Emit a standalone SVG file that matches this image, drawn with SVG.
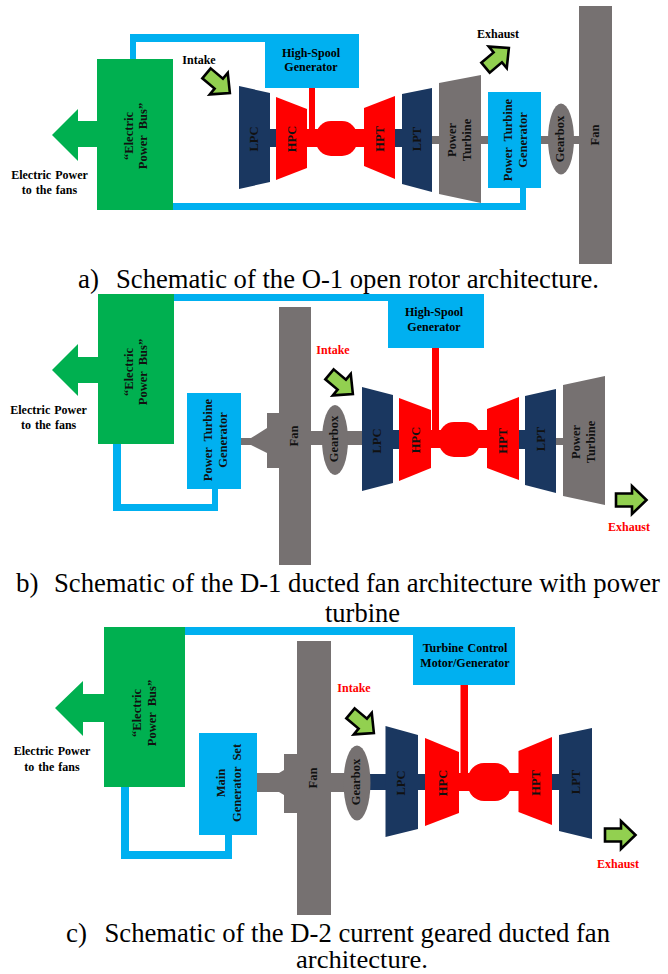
<svg xmlns="http://www.w3.org/2000/svg" xmlns:xlink="http://www.w3.org/1999/xlink" width="668" height="974" viewBox="0 0 668 974">
<style>
.g{fill:#00b050}.b{fill:#00b0f0}.y{fill:#767171}.n{fill:#1a3760}.r{fill:#ff0000}
text{font-family:"Liberation Serif","Times New Roman",serif}
.l{font-size:12px;font-weight:bold;fill:#000;text-anchor:middle;word-spacing:1px}
.e{font-size:12px;font-weight:bold;fill:#ff0000;text-anchor:middle}
.s{font-size:12.5px;font-weight:bold;fill:#111;text-anchor:middle;word-spacing:3px}
.c{font-size:27px;fill:#000}
.ar{fill:#92d050;stroke:#000;stroke-width:2.6;stroke-linejoin:miter}
</style>
<defs>
<polygon id="flow" class="ar" points="-15,-6.500 1,-6.500 1,-14 15.500,0 1,14 1,6.500 -15,6.500"/>
</defs>
<rect width="668" height="974" fill="#fff"/>

<g id="connectors">
<path class="b" d="M130 59V34H268V42H136V59Z"/>
<path class="b" d="M173 203H520V186H526V210H173Z"/>
<path class="r" d="M309 88H315V131H309Z"/>
<path class="b" d="M173 294H392V301H173Z"/>
<path class="b" d="M113 442H121V504H212V487H218V511H113Z"/>
<path class="r" d="M432 346H439V432H432Z"/>
<path class="b" d="M185 627H416V635H185Z"/>
<path class="b" d="M121 785H129V851H225V833H232V859H121Z"/>
<path class="r" d="M460.500 683H468V775H460.500Z"/>
</g>

<g id="a-shafts">
<rect class="y" x="432" y="136" width="147" height="8"/>
<rect class="n" x="268" y="129" width="10" height="18"/>
<rect class="n" x="393" y="129" width="11" height="18"/>
</g>
<g id="a-core"><rect class="r" x="305" y="129" width="61" height="18"/><rect class="r" x="316" y="121" width="41" height="35" rx="15"/></g>
<g id="a-bus"><rect class="g" x="97" y="59" width="76" height="151"/><polygon class="g" points="52,135 78,109 78,121 98,121 98,147 78,147 78,161"/>
<text class="s" transform="translate(133,136) rotate(-90)">“Electric</text><text class="s" transform="translate(147,136) rotate(-90)">Power Bus”</text></g>
<text class="l" x="49.500" y="179" word-spacing="2">Electric Power</text>
<text class="l" x="49.500" y="194">to the fans</text>
<g id="a-hsg"><rect class="b" x="265" y="34" width="94" height="54"/><text class="l" x="311" y="57">High-Spool</text><text class="l" x="311" y="71">Generator</text></g>
<g id="a-lpc"><polygon class="n" points="239,86 270,93 270,182 239,189"/><text class="s" transform="translate(258,139) rotate(-90)">LPC</text></g>
<g id="a-hpc"><polygon class="r" points="276,97 307,109 307,168 276,180"/><text class="s" transform="translate(296,139) rotate(-90)">HPC</text></g>
<g id="a-hpt"><polygon class="r" points="364,108 395,96 395,179 364,166"/><text class="s" transform="translate(384,139) rotate(-90)">HPT</text></g>
<g id="a-lpt"><polygon class="n" points="402,94 432,88 432,192 402,184"/><text class="s" transform="translate(421,139) rotate(-90)">LPT</text></g>
<g id="a-pt"><polygon class="y" points="439,83 481,75 481,203 439,194"/><text class="s" transform="translate(456,140) rotate(-90)">Power</text><text class="s" transform="translate(471,140) rotate(-90)">Turbine</text></g>
<g id="a-ptg"><rect class="b" x="488" y="92" width="53" height="96"/><text class="s" transform="translate(512,140) rotate(-90)">Power Turbine</text><text class="s" transform="translate(527,140) rotate(-90)">Generator</text></g>
<g id="a-gearbox"><ellipse class="y" cx="561" cy="139" rx="13" ry="35.500"/><text class="s" transform="translate(564,139) rotate(-90)">Gearbox</text></g>
<g id="a-fan"><rect class="y" x="579" y="6" width="33" height="258"/><text class="s" transform="translate(599,135) rotate(-90)">Fan</text></g>
<g id="a-intake"><use xlink:href="#flow" href="#flow" transform="translate(218,83) rotate(40)"/><text class="l" x="199" y="64">Intake</text></g>
<g id="a-exhaust"><use xlink:href="#flow" href="#flow" transform="translate(497,58) rotate(-40)"/><text class="l" x="498" y="38">Exhaust</text></g>
<text class="c" x="78" y="288">a)</text>
<text class="c" x="116" y="288" textLength="483" lengthAdjust="spacingAndGlyphs">Schematic of the O-1 open rotor architecture.</text>

<g id="b-shafts">
<polygon class="y" points="241,438 251,438 267,428 267,453 251,445 241,445"/>
<rect class="y" x="311" y="431" width="52" height="14"/>
<rect class="n" x="390" y="430" width="12" height="19"/>
<rect class="n" x="516" y="430" width="12" height="19"/>
<rect class="y" x="556" y="438" width="8" height="7"/>
</g>
<g id="b-core"><rect class="r" x="429" y="430" width="61" height="18"/><rect class="r" x="439" y="422" width="41" height="35" rx="15"/></g>
<g id="b-bus"><rect class="g" x="98" y="294" width="76" height="150"/><polygon class="g" points="52,370 78,344 78,357 98,357 98,383 78,383 78,396"/>
<text class="s" transform="translate(133,372) rotate(-90)">“Electric</text><text class="s" transform="translate(147,372) rotate(-90)">Power Bus”</text></g>
<text class="l" x="48.600" y="414" word-spacing="2">Electric Power</text>
<text class="l" x="48.600" y="429">to the fans</text>
<g id="b-hsg"><rect class="b" x="388" y="294" width="96" height="54"/><text class="l" x="434" y="316">High-Spool</text><text class="l" x="434" y="331">Generator</text></g>
<g id="b-ptg"><rect class="b" x="187" y="393" width="54" height="96"/><text class="s" transform="translate(212,440) rotate(-90)">Power Turbine</text><text class="s" transform="translate(226.500,440) rotate(-90)">Generator</text></g>
<g id="b-fan"><rect class="y" x="279" y="307" width="32" height="258"/><rect class="y" x="267" y="413" width="12" height="55"/><text class="s" transform="translate(298,436) rotate(-90)">Fan</text></g>
<g id="b-gearbox"><ellipse class="y" cx="335" cy="440" rx="13" ry="35"/><text class="s" transform="translate(338,439) rotate(-90)">Gearbox</text></g>
<g id="b-lpc"><polygon class="n" points="362,387 393,395 393,483 362,491"/><text class="s" transform="translate(381,441) rotate(-90)">LPC</text></g>
<g id="b-hpc"><polygon class="r" points="399,398 431,410 431,468 399,481"/><text class="s" transform="translate(420,440) rotate(-90)">HPC</text></g>
<g id="b-hpt"><polygon class="r" points="487,409 519,397 519,480 487,468"/><text class="s" transform="translate(507,441) rotate(-90)">HPT</text></g>
<g id="b-lpt"><polygon class="n" points="525,396 556,389 556,493 525,485"/><text class="s" transform="translate(545,439) rotate(-90)">LPT</text></g>
<g id="b-pt"><polygon class="y" points="563,385 605,376 605,505 563,496"/><text class="s" transform="translate(580,442) rotate(-90)">Power</text><text class="s" transform="translate(594.500,442) rotate(-90)">Turbine</text></g>
<g id="b-intake"><use xlink:href="#flow" href="#flow" transform="translate(341,384) rotate(40)"/><text class="e" x="333" y="354">Intake</text></g>
<g id="b-exhaust"><use xlink:href="#flow" href="#flow" transform="translate(631,500)"/><text class="e" x="629" y="531">Exhaust</text></g>
<text class="c" x="16" y="592">b)</text>
<text class="c" x="54" y="592" textLength="606" lengthAdjust="spacingAndGlyphs">Schematic of the D-1 ducted fan architecture with power</text>
<text class="c" x="325" y="622" textLength="75" lengthAdjust="spacingAndGlyphs">turbine</text>

<g id="c-shafts">
<polygon class="y" points="257,773 279,773 284,770 284,795 279,792 257,792"/>
<rect class="y" x="331" y="773" width="14" height="19"/>
<rect class="n" x="368" y="774" width="59" height="16"/>
<rect class="n" x="550" y="774" width="11" height="16"/>
</g>
<g id="c-core"><rect class="r" x="457" y="773" width="63" height="18"/><rect class="r" x="468" y="763" width="43" height="38" rx="16"/></g>
<g id="c-bus"><rect class="g" x="104" y="627" width="81" height="160"/><polygon class="g" points="55,708 83,681 83,694 104,694 104,722 83,722 83,736"/>
<text class="s" transform="translate(140.500,713) rotate(-90)">“Electric</text><text class="s" transform="translate(156,713) rotate(-90)">Power Bus”</text></g>
<text class="l" x="52" y="755" word-spacing="2">Electric Power</text>
<text class="l" x="52" y="771">to the fans</text>
<g id="c-tcm"><rect class="b" x="413" y="627" width="102" height="58"/><text class="l" x="465" y="652" word-spacing="3">Turbine Control</text><text class="l" x="465" y="667">Motor/Generator</text></g>
<g id="c-mgs"><rect class="b" x="199" y="733" width="58" height="102"/><text class="s" transform="translate(225,783) rotate(-90)">Main</text><text class="s" transform="translate(241,783) rotate(-90)">Generator Set</text></g>
<g id="c-fan"><rect class="y" x="297" y="641" width="34" height="274"/><rect class="y" x="284" y="754" width="13" height="59"/><text class="s" transform="translate(317,778) rotate(-90)">Fan</text></g>
<g id="c-gearbox"><ellipse class="y" cx="357" cy="783" rx="13.500" ry="37.500"/><text class="s" transform="translate(360,782) rotate(-90)">Gearbox</text></g>
<g id="c-lpc"><polygon class="n" points="385.500,726 418,735 418,829 385.500,837"/><text class="s" transform="translate(405,783) rotate(-90)">LPC</text></g>
<g id="c-hpc"><polygon class="r" points="425,738 459,752 459,813 425,826"/><text class="s" transform="translate(447,783) rotate(-90)">HPC</text></g>
<g id="c-hpt"><polygon class="r" points="518.500,751 552,737 552,825 518.500,812"/><text class="s" transform="translate(540,783) rotate(-90)">HPT</text></g>
<g id="c-lpt"><polygon class="n" points="559,735 592,728 592,839 559,831"/><text class="s" transform="translate(580,782) rotate(-90)">LPT</text></g>
<g id="c-intake"><use xlink:href="#flow" href="#flow" transform="translate(362,723) rotate(40)"/><text class="e" x="354" y="692">Intake</text></g>
<g id="c-exhaust"><use xlink:href="#flow" href="#flow" transform="translate(620,835)"/><text class="e" x="618" y="868">Exhaust</text></g>
<text class="c" x="66" y="942">c)</text>
<text class="c" x="104.500" y="942" textLength="505.500" lengthAdjust="spacingAndGlyphs">Schematic of the D-2 current geared ducted fan</text>
<text class="c" x="296" y="968" style="font-size:25px" textLength="132" lengthAdjust="spacingAndGlyphs">architecture.</text>
</svg>
